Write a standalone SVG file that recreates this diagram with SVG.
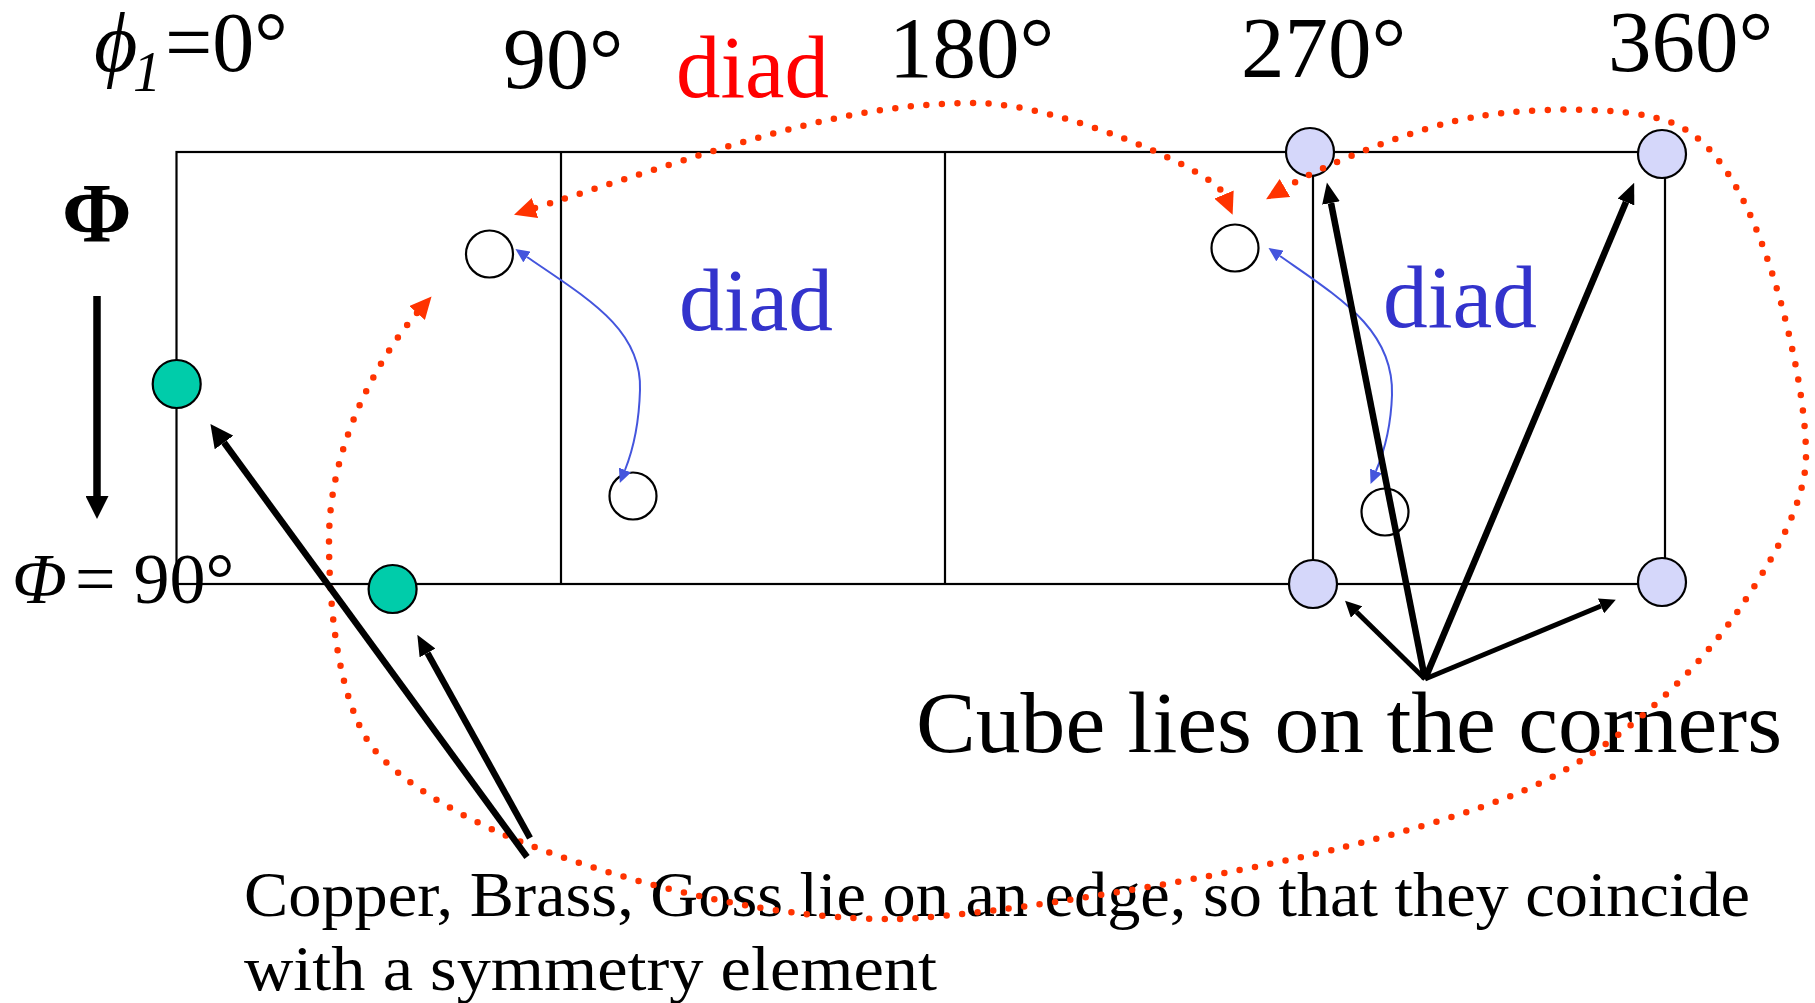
<svg xmlns="http://www.w3.org/2000/svg" width="1815" height="1003" viewBox="0 0 1815 1003">
<style>
.frame{fill:none;stroke:#000;stroke-width:2.2}
.t{font-family:"Liberation Serif","Times New Roman",serif;fill:#000}
.open{fill:none;stroke:#000;stroke-width:2.2}
.green{fill:#00CCAA;stroke:#000;stroke-width:2.2}
.lav{fill:#D5D7FA;stroke:#000;stroke-width:2.2}
.red{fill:none;stroke:#FF3300;stroke-width:6.5;stroke-linecap:round;stroke-dasharray:0 15.6}
.blue{fill:none;stroke:#4455DD;stroke-width:2}
.blk{fill:none;stroke:#000;stroke-width:6.5}
.blks{fill:none;stroke:#000;stroke-width:5}
</style>
<defs>
<marker id="arrRed" markerUnits="userSpaceOnUse" viewBox="0 0 22 21" markerWidth="22" markerHeight="21" refX="0" refY="10.5" orient="auto-start-reverse"><path d="M0,0 L22,10.5 L0,21 z" fill="#FF3300"/></marker>
<marker id="arrBlue" markerUnits="userSpaceOnUse" viewBox="0 0 14 13" markerWidth="14" markerHeight="13" refX="0" refY="6.5" orient="auto-start-reverse"><path d="M0,0 L14,6.5 L0,13 z" fill="#4455DD"/></marker>
<marker id="arrK" markerUnits="userSpaceOnUse" viewBox="0 0 23 23" markerWidth="23" markerHeight="23" refX="0" refY="11.5" orient="auto"><path d="M0,0 L23,11.5 L0,23 z" fill="#000"/></marker>
<marker id="arrKm" markerUnits="userSpaceOnUse" viewBox="0 0 21 18" markerWidth="21" markerHeight="18" refX="0" refY="9" orient="auto"><path d="M0,0 L21,9 L0,18 z" fill="#000"/></marker>
<marker id="arrKs" markerUnits="userSpaceOnUse" viewBox="0 0 16 16" markerWidth="16" markerHeight="16" refX="0" refY="8" orient="auto"><path d="M0,0 L16,8 L0,16 z" fill="#000"/></marker>
</defs>
<rect width="1815" height="1003" fill="#fff"/>

<g id="frame">
<rect class="frame" x="176.5" y="152" width="1488.5" height="432"/>
<line class="frame" x1="561" y1="152" x2="561" y2="584"/>
<line class="frame" x1="945" y1="152" x2="945" y2="584"/>
<line class="frame" x1="1313" y1="152" x2="1313" y2="584"/>
</g>

<g id="labels">
<text class="t" font-size="84" y="71"><tspan x="94" font-style="italic">ϕ</tspan><tspan x="133" y="91" font-size="56" font-style="italic">1</tspan><tspan x="165" y="71">=0°</tspan></text>
<text class="t" font-size="86" x="503" y="88">90°</text>
<text class="t" font-size="87" x="889" y="77">180°</text>
<text class="t" font-size="87" x="1241" y="77">270°</text>
<text class="t" font-size="87" x="1608" y="71">360°</text>
<text class="t" font-size="88" x="676" y="97" style="fill:#FF0000" textLength="153" lengthAdjust="spacingAndGlyphs">diad</text>
<text class="t" font-size="84" font-weight="bold" x="62" y="242">Φ</text>
<text class="t" font-size="72" y="603"><tspan x="12" font-style="italic">Φ</tspan><tspan x="75">= 90°</tspan></text>
<text class="t" font-size="88" x="679" y="330" style="fill:#3333CC" textLength="154" lengthAdjust="spacingAndGlyphs">diad</text>
<text class="t" font-size="88" x="1383" y="327" style="fill:#3333CC" textLength="154" lengthAdjust="spacingAndGlyphs">diad</text>
<text class="t" font-size="86" x="916" y="752" textLength="866" lengthAdjust="spacingAndGlyphs">Cube lies on the corners</text>
<text class="t" font-size="64" x="244" y="916" textLength="1506" lengthAdjust="spacingAndGlyphs">Copper, Brass, Goss lie on an edge, so that they coincide</text>
<text class="t" font-size="64" x="244" y="990" textLength="693" lengthAdjust="spacingAndGlyphs">with a symmetry element</text>
</g>

<g id="n-green1"><circle class="green" cx="176.7" cy="384" r="24"/></g>
<g id="n-green2"><circle class="green" cx="392.6" cy="589" r="24"/></g>
<g id="n-lav1"><circle class="lav" cx="1310" cy="152" r="24"/></g>
<g id="n-lav2"><circle class="lav" cx="1662" cy="154" r="24"/></g>
<g id="n-lav3"><circle class="lav" cx="1313" cy="584" r="24"/></g>
<g id="n-lav4"><circle class="lav" cx="1662" cy="582" r="24"/></g>
<g id="n-open1"><circle class="open" cx="489.5" cy="254" r="23.5"/></g>
<g id="n-open2"><circle class="open" cx="633" cy="496" r="23.5"/></g>
<g id="n-open3"><circle class="open" cx="1235" cy="248" r="23.5"/></g>
<g id="n-open4"><circle class="open" cx="1385" cy="512" r="23.5"/></g>

<g id="connectors">
<line class="blk" style="stroke-width:7.5" x1="97" y1="296" x2="97" y2="496" marker-end="url(#arrK)"/>
<path class="red" marker-start="url(#arrRed)" marker-end="url(#arrRed)" d="M535,208 C725.6,147.4 840,103 975,103 C1060,103 1214,171 1224,194.5"/>
<path class="red" marker-start="url(#arrRed)" marker-end="url(#arrRed)" d="M417,313 C384,350.5 329,440 329,540 C329,620 341,699 368,741 C395,783 477.5,825 524,843 C649.5,891.6 790,921 900,919 C1000,915 1223.6,876.8 1340,848 C1398,833.6 1467.8,814.4 1523,791 C1605.8,755.9 1689.6,683 1740,608 C1768,566.5 1806,506 1806,456 C1806,400 1788,323.5 1773,276 C1749,200 1717,139 1670,122 C1623,105 1529.5,108 1480,116 C1420.6,125.3 1328,162.5 1285,188"/>
<path class="blue" marker-start="url(#arrBlue)" marker-end="url(#arrBlue)" d="M527,257 C590,300 642,330 640,390 C639,425 633,450 625,470"/>
<path class="blue" marker-start="url(#arrBlue)" marker-end="url(#arrBlue)" d="M1280,256 C1340,298 1394,330 1392,395 C1391,425 1384,452 1376,471"/>
<line class="blk" x1="527" y1="857" x2="224" y2="442.5" marker-end="url(#arrK)"/>
<line class="blk" x1="530" y1="838" x2="427.5" y2="653" marker-end="url(#arrKm)"/>
<line class="blk" x1="1425" y1="679" x2="1331" y2="203" marker-end="url(#arrKm)"/>
<line class="blk" x1="1425" y1="679" x2="1626" y2="202" marker-end="url(#arrKm)"/>
<line class="blks" x1="1425" y1="679" x2="1356.5" y2="612" marker-end="url(#arrKs)"/>
<line class="blks" x1="1425" y1="679" x2="1601" y2="606" marker-end="url(#arrKs)"/>
</g>
</svg>
